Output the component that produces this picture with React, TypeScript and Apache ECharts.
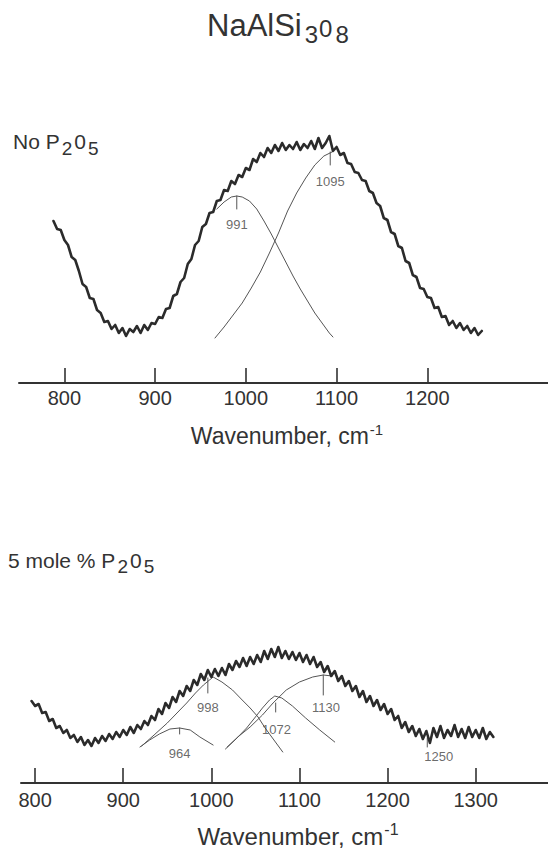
import React, { useEffect, useRef } from 'react';
import * as echarts from 'echarts';

const FONT = '"Liberation Sans", Arial, Helvetica, sans-serif';
const INK = '#333333';

// ---- Top panel: No P2O5 ----
const TOP_START = 788;
const TOP_STEP = 4;
const topIntensity = [
  162, 154, 153, 143, 138, 126, 123, 112, 99, 96,
  85, 84, 73, 70, 61, 62, 54, 58, 50, 55,
  47, 54, 51, 57, 50, 58, 53, 60, 59, 66,
  65, 74, 75, 87, 89, 101, 105, 119, 124, 138,
  142, 156, 159, 170, 171, 182, 183, 193, 192, 202,
  199, 208, 206, 215, 213, 224, 221, 230, 226, 235,
  230, 238, 232, 240, 233, 238, 234, 241, 233, 239,
  235, 242, 234, 245, 235, 240, 247, 232, 236, 228,
  230, 220, 219, 211, 210, 203, 202, 192, 190, 180,
  177, 165, 163, 151, 149, 137, 135, 122, 120, 108,
  106, 95, 94, 86, 85, 75, 76, 66, 67, 58,
  62, 55, 60, 53, 57, 50, 55, 48, 52,
];
const topComp991 = [
  [968, 174], [976, 181], [984, 186], [990, 187], [996, 186], [1004, 182],
  [1012, 174], [1020, 162], [1028, 149], [1036, 135], [1044, 121], [1052, 107],
  [1060, 94], [1068, 82], [1076, 70], [1084, 60], [1092, 50], [1096, 46],
];
const topComp1095 = [
  [966, 45], [976, 56], [986, 68], [996, 80], [1006, 95], [1016, 111],
  [1026, 130], [1036, 150], [1046, 172], [1056, 190], [1066, 205], [1076, 218],
  [1086, 227], [1095, 231],
];
const topPeakLabels = ['991', '1095'];
const topPeakWavenumbers = [990, 1093];
const topPeakTickTop = [187, 231];
const topPeakTickBottom = [174, 218];
const topPeakLabelLevel = [159, 202];
const topTicks = [800, 900, 1000, 1100, 1200];

// ---- Bottom panel: 5 mole % P2O5 ----
const BOT_START = 796;
const BOT_STEP = 4;
const bottomIntensity = [
  82, 77, 79, 70, 71, 62, 64, 55, 57, 50,
  53, 45, 48, 41, 46, 38, 43, 37, 45, 40,
  47, 42, 49, 44, 51, 46, 53, 48, 56, 50,
  58, 54, 62, 58, 67, 63, 74, 69, 80, 75,
  86, 81, 92, 87, 97, 92, 103, 98, 109, 103,
  113, 106, 114, 107, 115, 108, 119, 113, 122, 116,
  125, 117, 126, 119, 128, 121, 132, 124, 134, 126,
  136, 125, 132, 124, 131, 123, 130, 121, 128, 119,
  126, 116, 121, 111, 117, 107, 112, 102, 107, 97,
  102, 92, 97, 86, 92, 81, 87, 77, 83, 73,
  79, 69, 74, 63, 67, 55, 61, 51, 57, 47,
  54, 44, 52, 40, 55, 46, 57, 45, 53, 47,
  58, 46, 54, 45, 56, 46, 53, 45, 55, 44,
  51, 46,
];
const botComp964 = [
  [919, 36], [930, 43], [941, 49], [953, 54], [964, 55], [976, 53], [987, 46], [1002, 38],
];
const botComp998 = [
  [921, 37], [935, 48], [950, 60], [961, 70], [972, 80], [982, 90], [991, 98],
  [1002, 106], [1012, 101], [1024, 93], [1035, 83], [1044, 75], [1053, 66],
  [1061, 55], [1071, 43], [1081, 31],
];
const botComp1072 = [
  [1016, 34], [1028, 44], [1040, 55], [1050, 66], [1058, 75], [1066, 83],
  [1072, 87], [1080, 85], [1092, 77], [1107, 65], [1123, 53], [1140, 41],
];
const botComp1130 = [
  [1018, 36], [1030, 46], [1044, 56], [1058, 68], [1070, 80], [1085, 93],
  [1100, 101], [1115, 106], [1127, 108], [1137, 107],
];
const botPeakLabels = ['964', '998', '1072', '1130', '1250'];
const botPeakWavenumbers = [964, 996, 1073, 1127, 1245];
const botPeakTickTop = [55, 105, 80, 108, 45];
const botPeakTickBottom = [49, 90, 71, 88, 36];
const botPeakLabelLevel = [30, 76, 54, 76, 27];
const botPeakLabelWavenumbers = [964, 996, 1074, 1130, 1258];
const bottomTicks = [800, 900, 1000, 1100, 1200, 1300];

function grid(start: number, step: number, values: number[]) {
  return values.map((v, i) => [start + i * step, v]);
}

function line(axis: number, data: any[], width: number, color: string, z = 2) {
  return {
    type: 'line',
    xAxisIndex: axis,
    yAxisIndex: axis,
    data,
    symbol: 'none',
    showSymbol: false,
    silent: true,
    clip: false,
    z,
    lineStyle: { width, color, join: 'round', cap: 'round' },
  };
}

function peakSeries(
  axis: number,
  labels: string[],
  ws: number[],
  tops: number[],
  bottoms: number[],
  levels: number[],
  labelWs: number[],
) {
  const out: any[] = [];
  labels.forEach((_, i) => {
    out.push(line(axis, [[ws[i], tops[i]], [ws[i], bottoms[i]]], 1, '#555'));
  });
  out.push({
    type: 'scatter',
    xAxisIndex: axis,
    yAxisIndex: axis,
    symbol: 'circle',
    symbolSize: 1,
    silent: true,
    itemStyle: { color: 'rgba(0,0,0,0)' },
    label: {
      show: true,
      position: 'inside',
      formatter: '{b}',
      fontSize: 13,
      fontFamily: FONT,
      color: '#444',
    },
    data: labels.map((l, i) => ({ name: l, value: [labelWs[i], levels[i]] })),
  });
  return out;
}

function xAxis(gridIndex: number, min: number, max: number, ticks: number[], margin: number) {
  return {
    gridIndex,
    type: 'value',
    min,
    max,
    axisLine: { show: true, onZero: false, lineStyle: { color: INK, width: 2 } },
    axisTick: {
      show: true,
      inside: true,
      length: 15,
      customValues: ticks,
      lineStyle: { color: INK, width: 1.6 },
    },
    axisLabel: {
      show: true,
      customValues: ticks,
      formatter: (v: number) => String(v),
      fontSize: 20,
      fontFamily: FONT,
      color: INK,
      margin,
    },
    splitLine: { show: false },
  };
}

const formulaRich = {
  a: { fontSize: 21, fontFamily: FONT, fill: INK },
  s: { fontSize: 19, fontFamily: FONT, fill: INK, padding: [13, 0, 0, 2] },
  o: { fontSize: 21, fontFamily: FONT, fill: INK, padding: [0, 0, 0, 2] },
};

export default function App() {
  const ref = useRef<HTMLDivElement>(null);

  useEffect(() => {
    if (!ref.current) return;
    const chart = echarts.init(ref.current, undefined, { renderer: 'svg' });
    const option: any = {
      animation: false,
      backgroundColor: '#ffffff',
      grid: [
        { left: 19, right: 0, top: 103, height: 280 },
        { left: 21, right: 0, top: 633, height: 150 },
      ],
      xAxis: [
        xAxis(0, 750, 1333, topTicks, 5),
        xAxis(1, 784, 1382, bottomTicks, 7),
      ],
      yAxis: [
        { gridIndex: 0, type: 'value', min: 0, max: 280, show: false },
        { gridIndex: 1, type: 'value', min: 0, max: 150, show: false },
      ],
      series: [
        line(0, grid(TOP_START, TOP_STEP, topIntensity), 2.6, '#2b2b2b', 3),
        line(0, topComp991, 1, '#555'),
        line(0, topComp1095, 1, '#555'),
        ...peakSeries(0, topPeakLabels, topPeakWavenumbers, topPeakTickTop, topPeakTickBottom, topPeakLabelLevel, topPeakWavenumbers),
        line(1, grid(BOT_START, BOT_STEP, bottomIntensity), 2.6, '#2b2b2b', 3),
        line(1, botComp964, 1, '#555'),
        line(1, botComp998, 1, '#555'),
        line(1, botComp1072, 1, '#555'),
        line(1, botComp1130, 1, '#555'),
        ...peakSeries(1, botPeakLabels, botPeakWavenumbers, botPeakTickTop, botPeakTickBottom, botPeakLabelLevel, botPeakLabelWavenumbers),
      ],
      graphic: [
        {
          type: 'text',
          x: 207,
          y: 25.5,
          style: {
            text: '{a|NaAlSi}{s|3}{o|0}{t|8}',
            align: 'left',
            verticalAlign: 'middle',
            rich: {
              a: { fontSize: 31, fontFamily: FONT, fill: INK },
              s: { fontSize: 24, fontFamily: FONT, fill: INK, padding: [18, 0, 0, 3] },
              o: { fontSize: 24, fontFamily: FONT, fill: INK, padding: [6, 0, 0, 1] },
              t: { fontSize: 24, fontFamily: FONT, fill: INK, padding: [18, 0, 0, 3] },
            },
          },
        },
        {
          type: 'text',
          x: 13,
          y: 141.5,
          style: {
            text: '{a|No P}{s|2}{o|0}{s|5}',
            align: 'left',
            verticalAlign: 'middle',
            rich: formulaRich,
          },
        },
        {
          type: 'text',
          x: 8,
          y: 560,
          style: {
            text: '{a|5 mole % P}{s|2}{o|0}{s|5}',
            align: 'left',
            verticalAlign: 'middle',
            rich: formulaRich,
          },
        },
        {
          type: 'text',
          x: 287,
          y: 436,
          style: {
            text: '{a|Wavenumber, cm}{u|-1}',
            align: 'center',
            verticalAlign: 'middle',
            rich: {
              a: { fontSize: 23, fontFamily: FONT, fill: INK },
              u: { fontSize: 15, fontFamily: FONT, fill: INK, padding: [0, 0, 14, 1] },
            },
          },
        },
        {
          type: 'text',
          x: 298,
          y: 836,
          style: {
            text: '{a|Wavenumber, cm}{u|-1}',
            align: 'center',
            verticalAlign: 'middle',
            rich: {
              a: { fontSize: 24, fontFamily: FONT, fill: INK },
              u: { fontSize: 16, fontFamily: FONT, fill: INK, padding: [0, 0, 14, 1] },
            },
          },
        },
      ],
    };
    chart.setOption(option);
    return () => chart.dispose();
  }, []);

  return (
    <div
      ref={ref}
      style={{ position: 'absolute', left: 0, top: 0, width: 548, height: 848, background: '#fff' }}
    />
  );
}
